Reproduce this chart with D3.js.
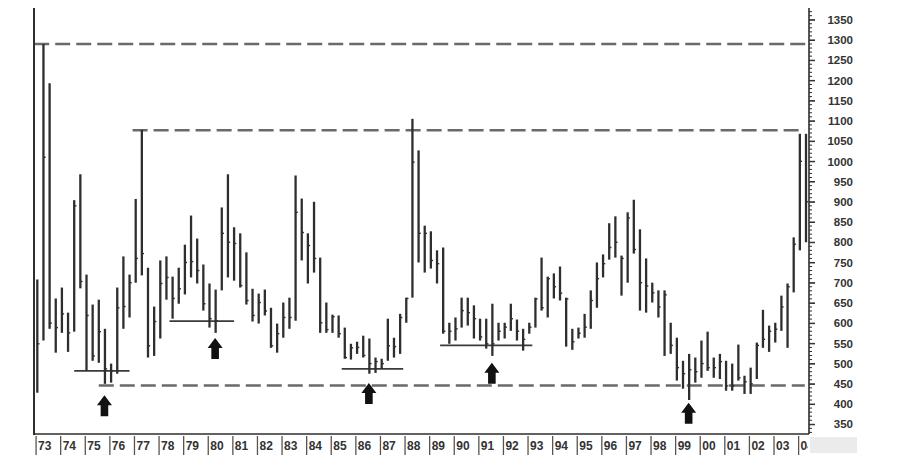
<!DOCTYPE html>
<html><head><meta charset="utf-8">
<script src="https://cdn.jsdelivr.net/npm/d3@7"></script>
<style>
html,body{margin:0;padding:0;background:#fff;}
svg{display:block;}
</style></head>
<body>
<svg id="chart" width="908" height="470"></svg>
<script>
// Quarterly bars, 1973 Q1 .. 2004 Q2
const yearLabels = ["73","74","75","76","77","78","79","80","81","82","83","84","85","86","87","88","89","90","91","92","93","94","95","96","97","98","99","00","01","02","03","04"];
const highs = [708,1290,1193,661,688,626,904,968,720,646,
658,586,500,688,765,720,907,1078,737,641,
755,765,715,737,794,866,809,745,698,683,
886,968,837,822,775,685,673,683,638,599,
651,663,965,908,822,900,762,651,621,619,
589,549,554,569,562,515,512,611,564,623,
663,1105,1027,841,827,780,787,601,614,663,
663,644,611,611,648,601,601,648,609,586,
601,663,762,715,723,740,663,586,589,623,
681,750,770,847,864,767,874,905,832,760,
700,681,681,601,564,507,524,515,557,579,
515,524,507,500,547,470,490,552,633,594,
601,668,698,812,1068,1068];
const lows = [428,557,586,527,576,529,579,686,482,507,
502,450,453,475,586,614,700,718,515,519,
562,658,611,648,671,713,698,631,589,576,
681,713,705,688,646,604,599,619,539,527,
564,586,606,755,698,725,576,576,576,564,
512,510,524,515,475,477,487,507,515,524,
601,663,750,725,735,698,574,549,557,589,
594,562,557,537,519,557,562,581,557,532,
574,589,631,614,661,656,542,534,562,564,
586,638,713,757,762,668,700,772,631,626,
651,614,519,524,458,438,410,453,465,482,
465,462,433,433,458,425,425,462,539,529,
552,581,539,676,780,800];
const closes = [549,1010,600,589,623,576,890,703,619,519,
579,487,482,638,641,700,760,772,544,604,
698,713,661,685,750,752,730,648,611,606,
822,800,797,693,656,619,651,630,544,574,
614,614,874,824,792,760,601,584,616,574,
515,539,540,520,500,505,500,544,542,614,
661,998,822,822,755,747,580,580,586,631,
626,611,566,549,549,580,590,611,580,560,
590,660,638,710,690,674,660,554,575,590,
656,710,747,787,800,760,860,782,700,692,
675,640,670,545,490,475,485,480,500,490,
490,505,445,445,465,455,450,545,560,580,
585,640,690,795,1000,900];
const yTicks = [350,400,450,500,550,600,650,700,750,800,850,900,950,1000,1050,1100,1150,1200,1250,1300,1350];
// reference levels: [value, startIndex, endIndex]
const dashedLevels = [[1290,-0.5,125.5],[1077,15.5,124.8],[446,10,124.8]];
const solidLevels = [[482,6,15],[605,21.5,32],[487,49.5,59.5],[545,65.5,80.5]];
// arrows: [bar index, price level of arrow tip]
const arrowBars = [11,29,54,74,106];
const arrowTips = [422,563,452,502,403];

const svg = d3.select("#chart");
const plotL = 34, plotR = 809, plotT = 8, plotB = 434;
const x = d3.scaleLinear().domain([0,125]).range([37.3,806]);
const y = d3.scaleLinear().domain([326,1379]).range([plotB,plotT]);

const ink = "#2e2e2e";

// dashed reference lines
svg.append("g").selectAll("line").data(dashedLevels).join("line")
  .attr("x1",d=>x(d[1])).attr("x2",d=>Math.min(x(d[2]),plotR))
  .attr("y1",d=>y(d[0])).attr("y2",d=>y(d[0]))
  .attr("stroke","#6a6a6a").attr("stroke-width",2.4)
  .attr("stroke-dasharray","15,6");

// solid support lines
svg.append("g").selectAll("line").data(solidLevels).join("line")
  .attr("x1",d=>x(d[1])).attr("x2",d=>x(d[2]))
  .attr("y1",d=>y(d[0])).attr("y2",d=>y(d[0]))
  .attr("stroke","#3a3a3a").attr("stroke-width",1.6);

// bars
const idx = d3.range(highs.length);
const bars = svg.append("g");
bars.selectAll("line.hl").data(idx).join("line").attr("class","hl")
  .attr("x1",i=>x(i)).attr("x2",i=>x(i))
  .attr("y1",i=>y(highs[i])).attr("y2",i=>y(lows[i]))
  .attr("stroke",ink).attr("stroke-width",2.3);
bars.selectAll("line.cl").data(idx).join("line").attr("class","cl")
  .attr("x1",i=>x(i)).attr("x2",i=>x(i)+2.2)
  .attr("y1",i=>y(closes[i])).attr("y2",i=>y(closes[i]))
  .attr("stroke",ink).attr("stroke-width",1.4);

// arrows under lows
const arrowG = svg.append("g");
arrowBars.forEach((i,k)=>{
  const cx = x(i) - 0.5;
  const top = y(arrowTips[k]);
  const p = `M${cx},${top} L${cx+7.5},${top+10} L${cx+3.8},${top+10} L${cx+3.8},${top+21} L${cx-3.8},${top+21} L${cx-3.8},${top+10} L${cx-7.5},${top+10} Z`;
  arrowG.append("path").attr("d",p).attr("fill","#111");
});

// axes frame
svg.append("line").attr("x1",plotL).attr("x2",plotL).attr("y1",plotT).attr("y2",plotB+1)
  .attr("stroke",ink).attr("stroke-width",2);
svg.append("line").attr("x1",plotL).attr("x2",plotR).attr("y1",plotB).attr("y2",plotB)
  .attr("stroke",ink).attr("stroke-width",1.6);
svg.append("line").attr("x1",plotR).attr("x2",plotR).attr("y1",plotT).attr("y2",plotB)
  .attr("stroke",ink).attr("stroke-width",1.6);

// right axis minor ticks
const minor = d3.range(330,1380,10);
svg.append("g").selectAll("line").data(minor).join("line")
  .attr("x1",plotR).attr("x2",d=>plotR + (d%50===0?6:3))
  .attr("y1",d=>y(d)).attr("y2",d=>y(d))
  .attr("stroke",ink).attr("stroke-width",1);
// right axis labels via d3 axis
const yAxis = d3.axisRight(y).tickValues(yTicks).tickSize(6).tickFormat(d=>d);
const ya = svg.append("g").attr("transform",`translate(${plotR},0)`).call(yAxis);
ya.select(".domain").remove();
ya.selectAll("line").attr("stroke",ink);
ya.selectAll("text").attr("x",44).attr("text-anchor","end")
  .attr("font-family","Liberation Sans, Arial, sans-serif").attr("font-weight","bold")
  .attr("font-size",11.5).attr("fill","#333");

// gray box bottom right
svg.append("rect").attr("x",810).attr("y",437).attr("width",47).attr("height",16).attr("fill","#ebebeb");

// x axis year ticks and labels
const xg = svg.append("g");
const clip = svg.append("clipPath").attr("id","xclip").append("rect")
  .attr("x",0).attr("y",0).attr("width",plotR-1).attr("height",470);
yearLabels.forEach((lab,k)=>{
  const tx = x(k*4 - 0.2);
  xg.append("line").attr("x1",tx).attr("x2",tx).attr("y1",plotB+2).attr("y2",plotB+21)
    .attr("stroke","#555").attr("stroke-width",1.3);
  xg.append("text").attr("x",tx+2).attr("y",450).text(lab)
    .attr("clip-path","url(#xclip)")
    .attr("font-family","Liberation Sans, Arial, sans-serif").attr("font-weight","bold")
    .attr("font-size",12).attr("fill","#333");
});
</script>
</body></html>
